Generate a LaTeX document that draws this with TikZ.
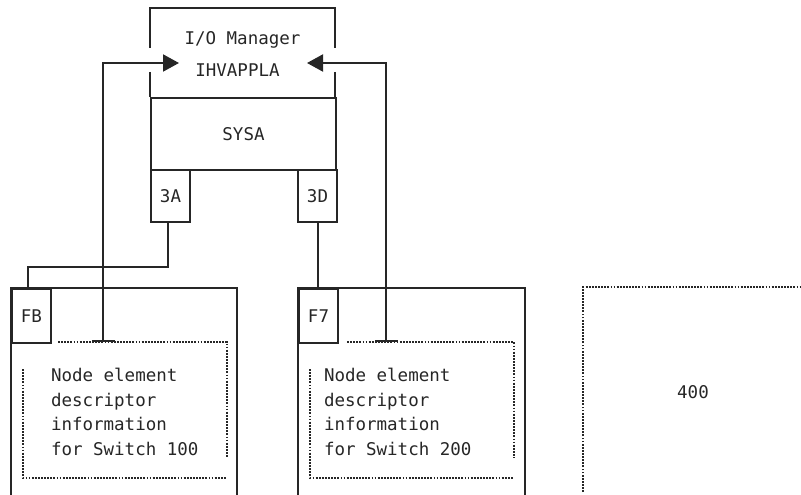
\documentclass[tikz,border=0pt]{standalone}
\usepackage{fontspec}
\setmonofont{DejaVu Sans Mono}
\usetikzlibrary{arrows.meta}
\begin{document}
\begin{tikzpicture}[x=1pt,y=-1pt, line width=2pt, draw=black!85,
  lbl/.style={font=\ttfamily\fontsize{17.5}{24.7}\selectfont, inner sep=0pt, text=black!85},
  port/.style={draw, rectangle, inner sep=0pt, anchor=north west, minimum width=39pt,
    font=\ttfamily\fontsize{17.5}{21}\selectfont, text=black!85},
  dots/.style={line width=2pt, dash pattern=on 1.8pt off 1.3pt},
  sig/.style={{Bar[width=23pt]}-{Triangle[length=16pt,width=17pt]}}]
\useasboundingbox (0,0) rectangle (801,495);
% I/O manager box
\draw (150,48) -- (150,8) -- (335,8) -- (335,48);
\draw (150,72) -- (150,97);
\draw (335,72) -- (335,97);
\node[draw, rectangle, inner sep=0pt, anchor=north west, minimum width=185pt, minimum height=72pt,
  font=\ttfamily\fontsize{17.5}{21}\selectfont, text=black!85] (sysa) at (150,97) {SYSA};
\node[lbl] (iom) at (242.5,40) {I/O Manager};
\node[lbl] (ihv) at (237.5,70) {IHVAPPLA};
% ports
\node[port, minimum height=52pt] (p3a) at (150,169) {3A};
\node[port, minimum height=52pt] (p3d) at (297,169) {3D};
% switch boxes
\draw (11,495) -- (11,288) -- (237,288) -- (237,495);
\draw (298,495) -- (298,288) -- (525,288) -- (525,495);
\node[port, minimum height=54pt] (pfb) at (11,288) {FB};
\node[port, minimum height=54pt] (pf7) at (298,288) {F7};
% links
\coordinate (j1) at (28,267);
\draw ([xshift=-3pt]p3a.south) |- (j1) -- (j1 |- pfb.north);
\draw (p3d.south) -- (p3d.south |- pf7.north);
% signal arrows
\coordinate (t1) at (103,342);
\coordinate (a1) at (179,63);
\coordinate (t2) at (386,342);
\coordinate (a2) at (307,63);
\draw[sig] (t1) |- (a1);
\draw[sig] (t2) |- (a2);
% dotted inner boxes
\draw[dots] (58,342) -- (227,342) -- (227,458);
\draw[dots] (23,369) -- (23,478) -- (227,478);
\draw[dots] (347,342) -- (514,342) -- (514,458);
\draw[dots] (310,369) -- (310,478) -- (514,478);
\node[lbl, align=left, anchor=west] (d1) at (50,412) {Node element\\descriptor\\information\\for Switch 100};
\node[lbl, align=left, anchor=west] (d2) at (323,412) {Node element\\descriptor\\information\\for Switch 200};
% box 400
\draw[dots] (583,492) -- (583,287) -- (801,287);
\node[lbl] (n400) at (693,392) {400};
\end{tikzpicture}
\end{document}
